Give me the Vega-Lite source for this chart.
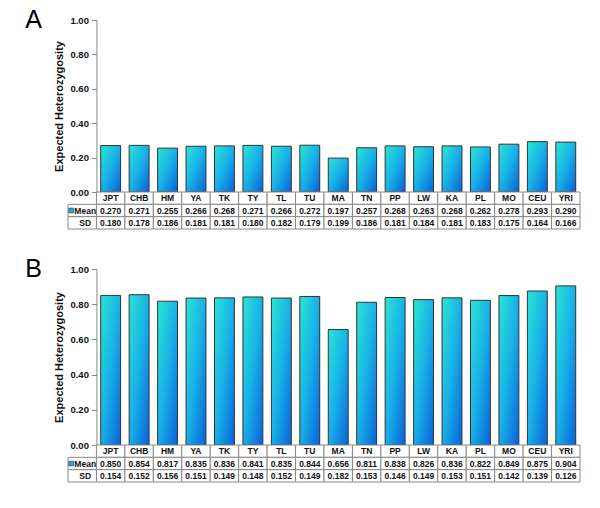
{
  "$schema": "https://vega.github.io/schema/vega-lite/v6.json",
  "padding": {"left": 25, "top": 8, "right": 5, "bottom": 5},
  "background": "white",
  "config": {
    "font": "Liberation Sans",
    "view": {"stroke": null},
    "axis": {"labelFont": "Liberation Sans", "titleFont": "Liberation Sans"},
    "text": {"font": "Liberation Sans", "fontWeight": "bold", "fontSize": 8.5, "color": "#111"}
  },
  "datasets": {
    "A": [
      {"pop": "JPT", "Mean": 0.270, "SD": 0.180},
      {"pop": "CHB", "Mean": 0.271, "SD": 0.178},
      {"pop": "HM", "Mean": 0.255, "SD": 0.186},
      {"pop": "YA", "Mean": 0.266, "SD": 0.181},
      {"pop": "TK", "Mean": 0.268, "SD": 0.181},
      {"pop": "TY", "Mean": 0.271, "SD": 0.180},
      {"pop": "TL", "Mean": 0.266, "SD": 0.182},
      {"pop": "TU", "Mean": 0.272, "SD": 0.179},
      {"pop": "MA", "Mean": 0.197, "SD": 0.199},
      {"pop": "TN", "Mean": 0.257, "SD": 0.186},
      {"pop": "PP", "Mean": 0.268, "SD": 0.181},
      {"pop": "LW", "Mean": 0.263, "SD": 0.184},
      {"pop": "KA", "Mean": 0.268, "SD": 0.181},
      {"pop": "PL", "Mean": 0.262, "SD": 0.183},
      {"pop": "MO", "Mean": 0.278, "SD": 0.175},
      {"pop": "CEU", "Mean": 0.293, "SD": 0.164},
      {"pop": "YRI", "Mean": 0.290, "SD": 0.166}
    ],
    "B": [
      {"pop": "JPT", "Mean": 0.850, "SD": 0.154},
      {"pop": "CHB", "Mean": 0.854, "SD": 0.152},
      {"pop": "HM", "Mean": 0.817, "SD": 0.156},
      {"pop": "YA", "Mean": 0.835, "SD": 0.151},
      {"pop": "TK", "Mean": 0.836, "SD": 0.149},
      {"pop": "TY", "Mean": 0.841, "SD": 0.148},
      {"pop": "TL", "Mean": 0.835, "SD": 0.152},
      {"pop": "TU", "Mean": 0.844, "SD": 0.149},
      {"pop": "MA", "Mean": 0.656, "SD": 0.182},
      {"pop": "TN", "Mean": 0.811, "SD": 0.153},
      {"pop": "PP", "Mean": 0.838, "SD": 0.146},
      {"pop": "LW", "Mean": 0.826, "SD": 0.149},
      {"pop": "KA", "Mean": 0.836, "SD": 0.153},
      {"pop": "PL", "Mean": 0.822, "SD": 0.151},
      {"pop": "MO", "Mean": 0.849, "SD": 0.142},
      {"pop": "CEU", "Mean": 0.875, "SD": 0.139},
      {"pop": "YRI", "Mean": 0.904, "SD": 0.126}
    ],
    "labels": [{"stat": "Mean"}, {"stat": "SD"}]
  },
  "spacing": 27,
  "vconcat": [
    {
      "spacing": 0,
      "bounds": "flush",
      "vconcat": [
        {
          "width": 512, "height": 172,
          "resolve": {"axis": {"y": "independent"}},
          "encoding": {
            "x": {"field": "pop", "type": "nominal", "scale": {"domain": [" ", "JPT", "CHB", "HM", "YA", "TK", "TY", "TL", "TU", "MA", "TN", "PP", "LW", "KA", "PL", "MO", "CEU", "YRI"], "paddingInner": 0, "paddingOuter": 0}, "axis": null}
          },
          "layer": [
            {
              "data": {"name": "A"},
              "mark": {"type": "bar", "width": {"band": 0.7}, "stroke": "#333", "strokeWidth": 1,
                "color": {"gradient": "linear", "x1": 0, "y1": 0, "x2": 1, "y2": 1, "stops": [{"offset": 0, "color": "#2ae6d2"}, {"offset": 0.5, "color": "#18b0e8"}, {"offset": 1, "color": "#0a62d8"}]}},
              "encoding": {
                "y": {"field": "Mean", "type": "quantitative", "scale": {"domain": [0, 1]},
                  "axis": {"title": "Expected Heterozygosity", "format": ".2f", "values": [0, 0.2, 0.4, 0.6, 0.8, 1], "labelOverlap": false, "offset": -28.44, "grid": false, "domainColor": "#888", "tickColor": "#888", "tickSize": 5, "labelFontSize": 9.5, "labelFontWeight": "bold", "labelColor": "#111", "labelPadding": 3, "titleFontSize": 11, "titleFontWeight": "bold", "titleColor": "#111", "titlePadding": 5}}
              }
            },
            {
              "data": {"values": [{"panel": "A"}]},
              "mark": {"type": "text", "fontSize": 25, "fontWeight": "normal", "color": "#000", "align": "left", "baseline": "alphabetic", "dx": -57, "dy": 8},
              "encoding": {"x": {"datum": " ", "type": "nominal"}, "y": {"datum": 1, "type": "quantitative", "axis": null}, "text": {"field": "panel"}}
            }
          ]
        },
        {
          "width": 512, "height": 37,
          "data": {"name": "A"},
          "encoding": {
            "x": {"field": "pop", "type": "nominal", "scale": {"domain": [" ", "JPT", "CHB", "HM", "YA", "TK", "TY", "TL", "TU", "MA", "TN", "PP", "LW", "KA", "PL", "MO", "CEU", "YRI"], "paddingInner": 0, "paddingOuter": 0}, "axis": null}
          },
          "layer": [
            {"mark": {"type": "rect", "fill": "white", "stroke": "#888", "strokeWidth": 1},
             "encoding": {"y": {"datum": "name", "type": "nominal", "scale": {"domain": ["name", "Mean", "SD"], "paddingInner": 0, "paddingOuter": 0}, "axis": null}}},
            {"mark": {"type": "text"},
             "encoding": {"y": {"datum": "name", "type": "nominal"}, "text": {"field": "pop"}}},
            {"transform": [{"fold": ["Mean", "SD"], "as": ["stat", "value"]}],
             "layer": [
               {"mark": {"type": "rect", "fill": "white", "stroke": "#888", "strokeWidth": 1},
                "encoding": {"y": {"field": "stat", "type": "nominal"}}},
               {"mark": {"type": "text"},
                "encoding": {"y": {"field": "stat", "type": "nominal"}, "text": {"field": "value", "type": "quantitative", "format": ".3f"}}}
             ]},
            {"data": {"name": "labels"},
             "layer": [
               {"mark": {"type": "rect", "fill": "white", "stroke": "#888", "strokeWidth": 1},
                "encoding": {"x": {"datum": " ", "type": "nominal"}, "y": {"field": "stat", "type": "nominal"}}},
               {"mark": {"type": "text", "dx": 3},
                "encoding": {"x": {"datum": " ", "type": "nominal"}, "y": {"field": "stat", "type": "nominal"}, "text": {"field": "stat"}}}
             ]},
            {"data": {"values": [{"stat": "Mean"}]},
             "mark": {"type": "square", "size": 22, "xOffset": -11, "opacity": 1, "fill": "#18a8e8", "stroke": "#333", "strokeWidth": 0.6},
             "encoding": {"x": {"datum": " ", "type": "nominal"}, "y": {"field": "stat", "type": "nominal"}}}
          ]
        }
      ]
    },
    {
      "spacing": 0,
      "bounds": "flush",
      "vconcat": [
        {
          "width": 512, "height": 176,
          "resolve": {"axis": {"y": "independent"}},
          "encoding": {
            "x": {"field": "pop", "type": "nominal", "scale": {"domain": [" ", "JPT", "CHB", "HM", "YA", "TK", "TY", "TL", "TU", "MA", "TN", "PP", "LW", "KA", "PL", "MO", "CEU", "YRI"], "paddingInner": 0, "paddingOuter": 0}, "axis": null}
          },
          "layer": [
            {
              "data": {"name": "B"},
              "mark": {"type": "bar", "width": {"band": 0.7}, "stroke": "#333", "strokeWidth": 1,
                "color": {"gradient": "linear", "x1": 0, "y1": 0, "x2": 1, "y2": 1, "stops": [{"offset": 0, "color": "#2ae6d2"}, {"offset": 0.5, "color": "#18b0e8"}, {"offset": 1, "color": "#0a62d8"}]}},
              "encoding": {
                "y": {"field": "Mean", "type": "quantitative", "scale": {"domain": [0, 1]},
                  "axis": {"title": "Expected Heterozygosity", "format": ".2f", "values": [0, 0.2, 0.4, 0.6, 0.8, 1], "labelOverlap": false, "offset": -28.44, "grid": false, "domainColor": "#888", "tickColor": "#888", "tickSize": 5, "labelFontSize": 9.5, "labelFontWeight": "bold", "labelColor": "#111", "labelPadding": 3, "titleFontSize": 11, "titleFontWeight": "bold", "titleColor": "#111", "titlePadding": 5}}
              }
            },
            {
              "data": {"values": [{"panel": "B"}]},
              "mark": {"type": "text", "fontSize": 25, "fontWeight": "normal", "color": "#000", "align": "left", "baseline": "alphabetic", "dx": -57, "dy": 8},
              "encoding": {"x": {"datum": " ", "type": "nominal"}, "y": {"datum": 1, "type": "quantitative", "axis": null}, "text": {"field": "panel"}}
            }
          ]
        },
        {
          "width": 512, "height": 37,
          "data": {"name": "B"},
          "encoding": {
            "x": {"field": "pop", "type": "nominal", "scale": {"domain": [" ", "JPT", "CHB", "HM", "YA", "TK", "TY", "TL", "TU", "MA", "TN", "PP", "LW", "KA", "PL", "MO", "CEU", "YRI"], "paddingInner": 0, "paddingOuter": 0}, "axis": null}
          },
          "layer": [
            {"mark": {"type": "rect", "fill": "white", "stroke": "#888", "strokeWidth": 1},
             "encoding": {"y": {"datum": "name", "type": "nominal", "scale": {"domain": ["name", "Mean", "SD"], "paddingInner": 0, "paddingOuter": 0}, "axis": null}}},
            {"mark": {"type": "text"},
             "encoding": {"y": {"datum": "name", "type": "nominal"}, "text": {"field": "pop"}}},
            {"transform": [{"fold": ["Mean", "SD"], "as": ["stat", "value"]}],
             "layer": [
               {"mark": {"type": "rect", "fill": "white", "stroke": "#888", "strokeWidth": 1},
                "encoding": {"y": {"field": "stat", "type": "nominal"}}},
               {"mark": {"type": "text"},
                "encoding": {"y": {"field": "stat", "type": "nominal"}, "text": {"field": "value", "type": "quantitative", "format": ".3f"}}}
             ]},
            {"data": {"name": "labels"},
             "layer": [
               {"mark": {"type": "rect", "fill": "white", "stroke": "#888", "strokeWidth": 1},
                "encoding": {"x": {"datum": " ", "type": "nominal"}, "y": {"field": "stat", "type": "nominal"}}},
               {"mark": {"type": "text", "dx": 3},
                "encoding": {"x": {"datum": " ", "type": "nominal"}, "y": {"field": "stat", "type": "nominal"}, "text": {"field": "stat"}}}
             ]},
            {"data": {"values": [{"stat": "Mean"}]},
             "mark": {"type": "square", "size": 22, "xOffset": -11, "opacity": 1, "fill": "#18a8e8", "stroke": "#333", "strokeWidth": 0.6},
             "encoding": {"x": {"datum": " ", "type": "nominal"}, "y": {"field": "stat", "type": "nominal"}}}
          ]
        }
      ]
    }
  ]
}
